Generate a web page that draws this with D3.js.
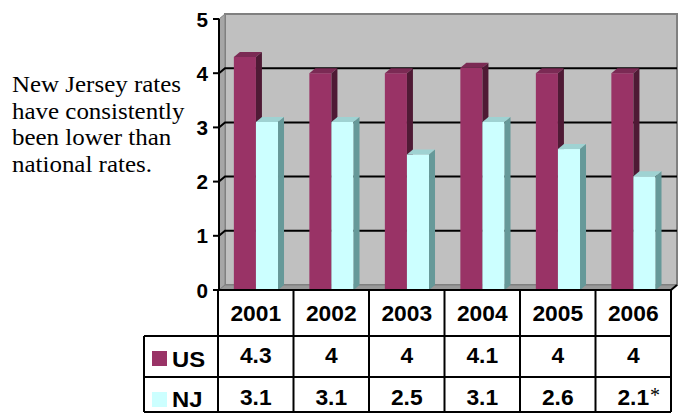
<!DOCTYPE html>
<html>
<head>
<meta charset="utf-8">
<script src="https://d3js.org/d3.v7.min.js"></script>
<style>
body { margin: 0; background: #fff; }
svg { display: block; }
.note { font-family: "Liberation Serif", "Times New Roman", serif; font-size: 24px; fill: #000; }
.ytick { font-family: "Liberation Sans", Arial, sans-serif; font-weight: bold; font-size: 19.5px; }
.cell { font-family: "Liberation Sans", Arial, sans-serif; font-weight: bold; font-size: 21.5px; }
.name { font-family: "Liberation Sans", Arial, sans-serif; font-weight: bold; font-size: 22.5px; }
</style>
</head>
<body>
<script>
let years = ['2001', '2002', '2003', '2004', '2005', '2006'];
let usRates = [4.3, 4, 4, 4.1, 4, 4];
let njRates = [3.1, 3.1, 2.5, 3.1, 2.6, 2.1];
let seriesNames = ['US', 'NJ'];
let yTicks = [0, 1, 2, 3, 4, 5];
let noteLines = ['New Jersey rates', 'have consistently', 'been lower than', 'national rates.'];

let width = 680, height = 413;
let dx = 6, dy = -5;   // depth of the 3d box
let colors = {
    US: {front: '#993366', top: '#7b2a54', side: '#4f1a35'},
    NJ: {front: '#ccffff', top: '#9fd2d2', side: '#669999'}
};

let svg = d3.select('body').append('svg').attr('width', width).attr('height', height);

// text drawn a little wider than tall, like the original
let addText = function(x, y, str, cls, anchor, sx) {
    return svg.append('text').attr('class', cls)
        .attr('transform', 'translate(' + x + ',' + y + ') scale(' + sx + ',1)')
        .attr('text-anchor', anchor).text(str);
};

let x = d3.scaleBand().domain(years).range([218, 671]);
let xSub = d3.scaleBand().domain(seriesNames).range([x.bandwidth() * 0.21, x.bandwidth() * 0.795]);
let y = d3.scaleLinear().domain([0, 5]).range([290, 19]);

let x0 = x.range()[0] + 1, x1 = x.range()[1];

// walls
svg.append('polygon')
    .attr('points', [[x0 + dx, y(5) + dy], [x1 + dx, y(5) + dy], [x1 + dx, y(0) + dy], [x0 + dx, y(0) + dy]].join(' '))
    .attr('fill', '#c0c0c0').attr('stroke', '#808080').attr('stroke-width', 2);
svg.append('polygon')
    .attr('points', [[x0, y(5)], [x0 + dx, y(5) + dy], [x0 + dx, y(0) + dy], [x0, y(0)]].join(' '))
    .attr('fill', '#a6a6a6').attr('stroke', '#808080').attr('stroke-width', 1);
svg.append('polygon')
    .attr('points', [[x0, y(0)], [x0 + dx, y(0) + dy], [x1 + dx, y(0) + dy], [x1, y(0)]].join(' '))
    .attr('fill', '#999999').attr('stroke', '#808080').attr('stroke-width', 1);

// gridlines on back wall and side wall
svg.selectAll('.grid').data(yTicks.filter(d => d > 0 && d < 5)).enter()
    .append('polyline').attr('class', 'grid')
    .attr('points', d => [[x0, y(d)], [x0 + dx, y(d) + dy], [x1 + dx, y(d) + dy]].join(' '))
    .attr('fill', 'none').attr('stroke', '#000').attr('stroke-width', 2);

// bars
let barData = [];
years.forEach((yr, i) => {
    barData.push({year: yr, s: 'US', v: usRates[i]});
    barData.push({year: yr, s: 'NJ', v: njRates[i]});
});
let bars = svg.selectAll('.bar').data(barData).enter().append('g').attr('class', 'bar');
let bx = d => x(d.year) + xSub(d.s);
let bw = xSub.bandwidth();
bars.append('rect')
    .attr('x', d => bx(d)).attr('y', d => y(d.v))
    .attr('width', bw).attr('height', d => y(0) - y(d.v))
    .attr('fill', d => colors[d.s].front);
bars.append('polygon')
    .attr('points', d => [[bx(d), y(d.v)], [bx(d) + dx, y(d.v) + dy], [bx(d) + bw + dx, y(d.v) + dy], [bx(d) + bw, y(d.v)]].join(' '))
    .attr('fill', d => colors[d.s].top);
bars.append('polygon')
    .attr('points', d => [[bx(d) + bw, y(d.v)], [bx(d) + bw + dx, y(d.v) + dy], [bx(d) + bw + dx, y(0) + dy], [bx(d) + bw, y(0)]].join(' '))
    .attr('fill', d => colors[d.s].side);

// y axis
svg.append('line').attr('x1', x0).attr('x2', x0).attr('y1', y(5)).attr('y2', y(0))
    .attr('stroke', '#000').attr('stroke-width', 2);
svg.selectAll('.ytl').data(yTicks).enter().append('line')
    .attr('x1', x0 - 6).attr('x2', x0).attr('y1', d => y(d)).attr('y2', d => y(d))
    .attr('stroke', '#000').attr('stroke-width', 2);
yTicks.forEach(t => addText(x0 - 11, y(t) + 7.5, t, 'ytick', 'end', 1.06));

// data table
let rowY = [290, 336, 377, 412];
let tableLeft = 144;
let lines = svg.append('g').attr('stroke', '#000').attr('stroke-width', 2);
lines.append('line').attr('x1', x.range()[0]).attr('x2', x1).attr('y1', rowY[0]).attr('y2', rowY[0]);
[1, 2, 3].forEach(r => {
    lines.append('line').attr('x1', tableLeft).attr('x2', x1).attr('y1', rowY[r]).attr('y2', rowY[r]);
});
lines.append('line').attr('x1', tableLeft).attr('x2', tableLeft).attr('y1', rowY[1]).attr('y2', rowY[3]);
years.forEach(yr => {
    lines.append('line').attr('x1', x(yr)).attr('x2', x(yr)).attr('y1', rowY[0]).attr('y2', rowY[3]);
});
lines.append('line').attr('x1', x1).attr('x2', x1).attr('y1', rowY[0]).attr('y2', rowY[3]);
lines.append('line').attr('x1', x1).attr('x2', x1 + dx).attr('y1', rowY[0]).attr('y2', rowY[0] + dy);

years.forEach(yr => addText(x(yr) + x.bandwidth() / 2, 320.5, yr, 'cell', 'middle', 1.06));

let rows = [{name: 'US', vals: usRates, ty: 363, ny: 366.5}, {name: 'NJ', vals: njRates, ty: 405, ny: 407}];
rows.forEach((r, ri) => {
    svg.append('rect').attr('x', 152).attr('y', rowY[ri + 1] + 15).attr('width', 15).attr('height', 15)
        .attr('fill', colors[r.name].front);
    addText(172, r.ny, r.name, 'name', 'start', 1.06);
    r.vals.forEach((v, i) => addText(x(years[i]) + x.bandwidth() / 2, r.ty, v, 'cell', 'middle', 1.06));
});
// footnote mark on the last NJ value
svg.append('text').attr('x', 650).attr('y', 402)
    .style('font-family', 'Liberation Serif, serif').style('font-size', '20px').text('*');

// side note
noteLines.forEach((l, i) => addText(12, 92 + i * 26.5, l, 'note', 'start', 1.04));
</script>
</body>
</html>
